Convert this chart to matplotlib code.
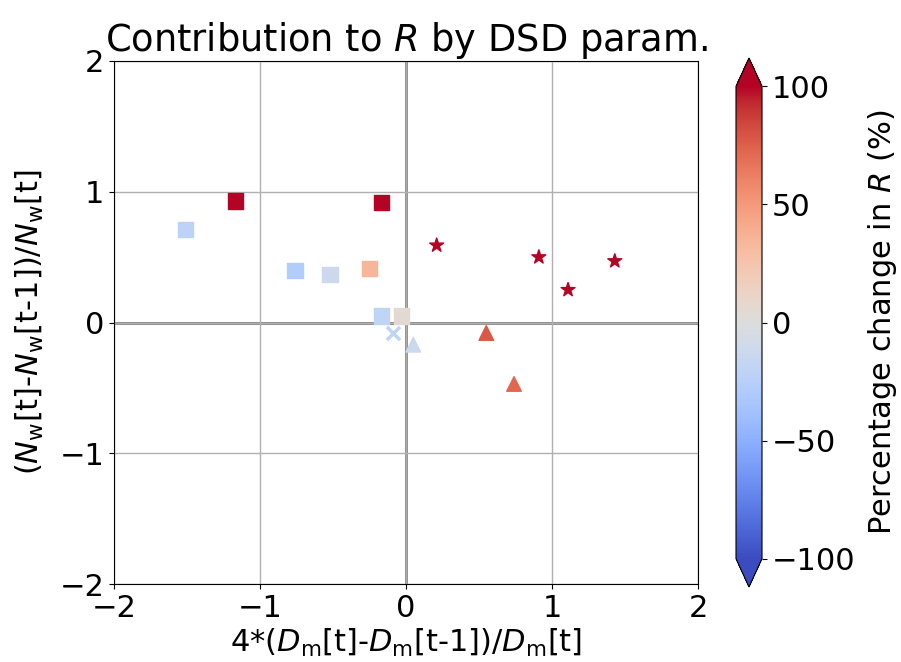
import numpy as np
import matplotlib
matplotlib.use("Agg")
import matplotlib.pyplot as plt

# values
sq_x = [-1.51, -1.17, -0.17, -0.76, -0.52, -0.25, -0.17, -0.03]
sq_y = [0.71, 0.93, 0.92, 0.40, 0.37, 0.41, 0.05, 0.05]
sq_c = [-22, 110, 110, -28, -12, 35, -20, 5]

x_x = [-0.09]
x_y = [-0.08]
x_c = [-20]

tr_x = [0.05, 0.55, 0.74]
tr_y = [-0.17, -0.08, -0.47]
tr_c = [-12, 78, 72]

st_x = [0.21, 0.91, 1.11, 1.43]
st_y = [0.59, 0.50, 0.25, 0.47]
st_c = [110, 110, 110, 110]

plt.rcParams['font.size'] = 22

fig = plt.figure(figsize=(9.01, 6.62), dpi=100)
ax = fig.add_axes([114/901, 1-584/662, (698-114)/901, (584-61)/662])
cax = fig.add_axes([736/901, 1-587/662, 26/901, (587-58)/662])

ax.grid(True, color='#b0b0b0', lw=1)
ax.axhline(0, color='grey', lw=2, zorder=1)
ax.axvline(0, color='grey', lw=2, zorder=1)

kw = dict(cmap='coolwarm', vmin=-100, vmax=100, zorder=3)
sc = ax.scatter(sq_x, sq_y, c=sq_c, marker='s', s=120, **kw)
ax.scatter(x_x, x_y, c=x_c, marker='x', s=90, lw=2.5, **kw)
ax.scatter(tr_x, tr_y, c=tr_c, marker='^', s=110, **kw)
ax.scatter(st_x, st_y, c=st_c, marker='*', s=110, **kw)

ax.set_xlim(-2, 2)
ax.set_ylim(-2, 2)
ax.set_xticks([-2, -1, 0, 1, 2])
ax.set_yticks([-2, -1, 0, 1, 2])
ax.set_title('Contribution to $R$ by DSD param.', fontsize=26.5, pad=6)
ax.set_xlabel(r'4*($D_\mathrm{m}$[t]-$D_\mathrm{m}$[t-1])/$D_\mathrm{m}$[t]', labelpad=3)
ax.set_ylabel(r'($N_\mathrm{w}$[t]-$N_\mathrm{w}$[t-1])/$N_\mathrm{w}$[t]', labelpad=10)

cb = fig.colorbar(sc, cax=cax, extend='both', extendfrac=0.06)
cb.set_ticks([-100, -50, 0, 50, 100])
cb.set_label('Percentage change in $R$ (%)', labelpad=8)

fig.savefig('out.png', dpi=100)
